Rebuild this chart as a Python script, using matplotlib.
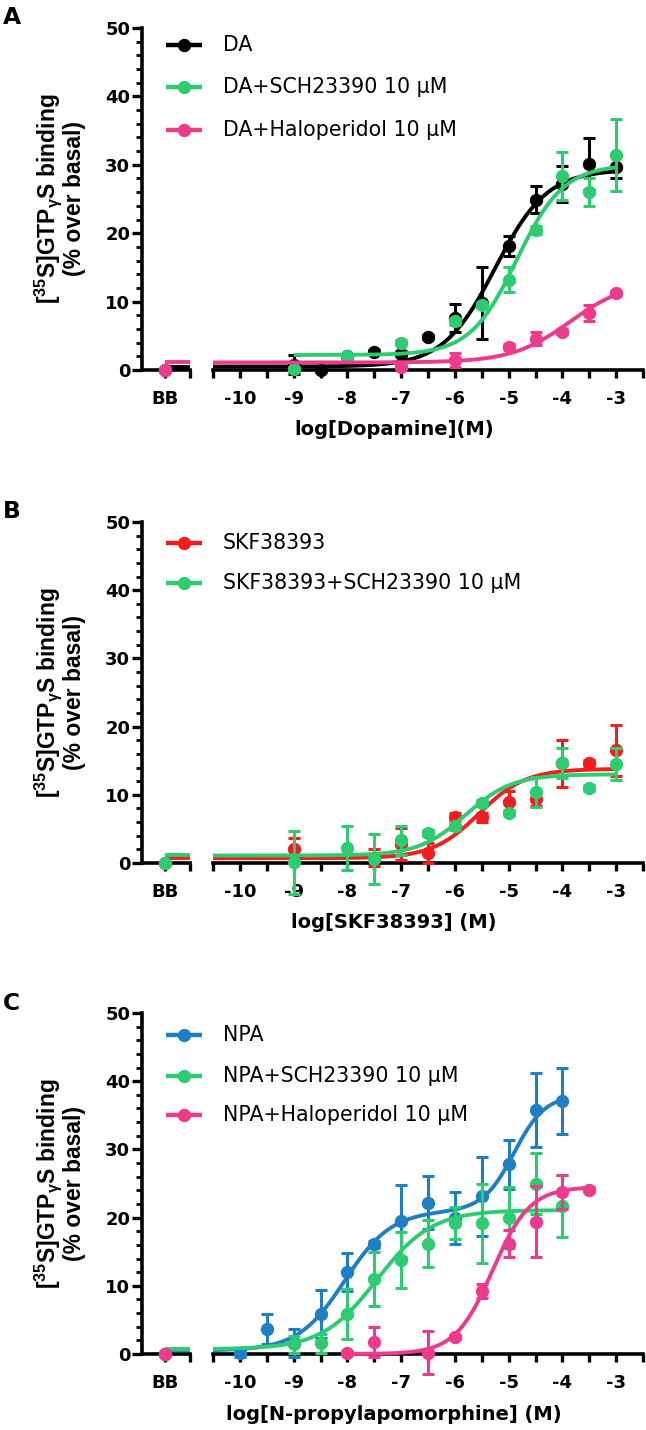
import matplotlib
matplotlib.use('Agg')
import matplotlib.pyplot as plt
import numpy as np
from matplotlib.lines import Line2D

plt.rcParams['font.family'] = ['DejaVu Sans']
plt.rcParams['mathtext.fontset'] = 'custom'
plt.rcParams['mathtext.rm'] = 'Liberation Sans:bold'
plt.rcParams['mathtext.it'] = 'Liberation Sans'
plt.rcParams['mathtext.default'] = 'rm'

# colours
BLACK = '#000000'
GREEN = '#2ecc71'
PINK = '#ee3a8c'
RED = '#f21d1d'
BLUE = '#1f7fc4'

# ---------------- panel A : dopamine ----------------
a_da_x = [-9, -8.5, -8, -7.5, -7, -6.5, -6, -5.5, -5, -4.5, -4, -3.5, -3]
a_da_y = [0.8, 0.0, 2.0, 2.6, 2.4, 4.8, 7.6, 9.8, 18.1, 24.9, 27.2, 30.1, 29.7]
a_da_e = [1.4, 0.3, 0.3, 0.3, 0.4, 0.3, 2.1, 5.3, 1.5, 2.0, 2.6, 3.8, 1.7]
a_sch_x = [-9, -8, -7, -6, -5.5, -5, -4.5, -4, -3.5, -3]
a_sch_y = [0.2, 2.0, 4.0, 7.1, 9.5, 13.2, 20.5, 28.3, 26.0, 31.4]
a_sch_e = [0.3, 0.3, 0.4, 0.5, 0.5, 1.8, 0.6, 3.5, 2.0, 5.3]
a_hal_x = [-7, -6, -5, -4.5, -4, -3.5, -3]
a_hal_y = [0.5, 1.5, 3.4, 4.6, 5.6, 8.3, 11.2]
a_hal_e = [0.3, 1.0, 0.4, 1.0, 0.4, 1.2, 0.4]
a_bb = [0.0, 0.0, 0.0]
# fitted curves: bottom, top, logEC50, hill
a_da_fit = [0.5, 29.3, -5.25, 0.9]
a_sch_fit = [2.2, 30.0, -4.85, 1.0]
a_hal_fit = [1.1, 13.1, -3.85, 0.8]

# ---------------- panel B : SKF38393 ----------------
b_skf_x = [-9, -7.5, -7, -6.5, -6, -5.5, -5, -4.5, -4, -3.5, -3]
b_skf_y = [2.0, 0.8, 2.8, 1.5, 6.8, 6.7, 8.9, 9.4, 14.6, 14.6, 16.5]
b_skf_e = [1.6, 1.2, 2.4, 1.5, 0.5, 0.7, 1.7, 1.0, 3.5, 0.5, 3.7]
b_sch_x = [-9, -8, -7.5, -7, -6.5, -6, -5.5, -5, -4.5, -4, -3.5, -3]
b_sch_y = [0.1, 2.2, 0.6, 3.3, 4.4, 5.4, 8.8, 7.4, 10.4, 14.6, 11.0, 14.5]
b_sch_e = [4.6, 3.2, 3.7, 2.1, 0.5, 0.5, 0.5, 0.4, 2.2, 2.2, 0.4, 2.3]
b_bb = [0.0, 0.0]
b_skf_fit = [0.7, 13.8, -5.55, 1.0]
b_sch_fit = [1.1, 13.0, -5.8, 1.0]

# ---------------- panel C : NPA ----------------
c_npa_x = [-10, -9.5, -9, -8.5, -8, -7.5, -7, -6.5, -6, -5.5, -5, -4.5, -4]
c_npa_y = [0.1, 3.6, 1.6, 5.9, 12.0, 16.1, 19.5, 22.2, 19.9, 23.1, 27.8, 35.8, 37.1]
c_npa_e = [0.6, 2.2, 2.0, 3.5, 2.8, 0.5, 5.3, 3.9, 3.8, 5.8, 3.6, 5.4, 4.9]
c_sch_x = [-9, -8.5, -8, -7.5, -7, -6.5, -6, -5.5, -5, -4.5, -4]
c_sch_y = [1.4, 1.6, 5.9, 11.0, 13.8, 16.2, 19.2, 19.2, 20.0, 25.0, 21.7]
c_sch_e = [1.2, 1.4, 3.7, 4.0, 4.1, 3.4, 2.4, 5.8, 4.5, 4.5, 4.6]
c_hal_x = [-8, -7.5, -6.5, -6, -5.5, -5, -4.5, -4, -3.5]
c_hal_y = [0.2, 1.8, 0.2, 2.5, 9.2, 16.2, 19.4, 23.8, 24.1]
c_hal_e = [0.2, 2.2, 3.1, 0.3, 1.0, 2.0, 5.2, 2.5, 0.4]
c_bb = [0.0, 0.0, 0.0]
# biphasic: bottom, span1, logEC50_1, hill1, span2, logEC50_2, hill2
c_npa_fit = [0.5, 20.5, -8.05, 1.0, 17.0, -4.9, 1.5]
c_sch_fit = [0.7, 21.1, -7.45, 0.85]
c_hal_fit = [0.0, 24.5, -5.3, 1.25]

log_ticks = [-10, -9, -8, -7, -6, -5, -4, -3]
y_ticks = [0, 10, 20, 30, 40, 50]

W, H = 646, 1430
TICK_FS = 13
LEG_FS = 14.8


def fx(px):
    return px / W


def fy(py):
    return 1 - py / H


def sigmoid(x, p):
    b, t, ec, h = p
    return b + (t - b) / (1 + 10 ** ((ec - x) * h))


def biphasic(x, p):
    b, s1, ec1, h1, s2, ec2, h2 = p
    return b + s1 / (1 + 10 ** ((ec1 - x) * h1)) + s2 / (1 + 10 ** ((ec2 - x) * h2))


def draw_panel(fig, top, bottom, letter, xlabel, series, leg_rows):
    yb = fy(bottom)
    hh = (bottom - top) / H
    ax_bb = fig.add_axes([fx(142), yb, fx(190) - fx(142), hh])
    ax_log = fig.add_axes([fx(213), yb, fx(643) - fx(213), hh])
    for ax in (ax_bb, ax_log):
        ax.set_ylim(0, 50)
        ax.spines['top'].set_visible(False)
        ax.spines['right'].set_visible(False)
        for s in ('left', 'bottom'):
            ax.spines[s].set_linewidth(2.6)
        ax.patch.set_alpha(0)
        ax.tick_params(axis='x', which='both', direction='out', length=5.5,
                       width=2.4, pad=9)
    ax_bb.set_xlim(-0.92, 1)
    ax_bb.set_xticks([0, 1])
    ax_bb.set_xticklabels(['BB', ''], fontweight='bold', fontsize=TICK_FS)
    ax_bb.set_yticks(y_ticks)
    ax_bb.set_yticklabels([str(v) for v in y_ticks], fontweight='bold', fontsize=TICK_FS)
    ax_bb.set_yticks(np.arange(0, 51, 2), minor=True)
    ax_bb.tick_params(axis='y', which='major', direction='out', length=7, width=2.4, pad=1.5)
    ax_bb.tick_params(axis='y', which='minor', direction='out', length=4, width=2.0)
    ax_log.spines['left'].set_visible(False)
    ax_log.set_yticks([])
    ax_log.set_xlim(-10.5, -2.5)
    ax_log.set_xticks(log_ticks)
    ax_log.set_xticklabels([str(v) for v in log_ticks], fontweight='bold', fontsize=TICK_FS)
    ax_log.set_xticks(np.arange(-10.5, -2.4, 0.5), minor=True)

    for i, s in enumerate(series):
        z = 3 + i
        c = s['color']
        f = s['func']
        if s['bb_line']:
            ax_bb.plot([0, 1], [f(-10.5, s['fit'])] * 2, color=c, lw=2.8, zorder=z,
                       clip_on=False, solid_capstyle='butt')
        xs = np.linspace(s['x0'], s['x1'], 300)
        ax_log.plot(xs, f(xs, s['fit']), color=c, lw=2.8, zorder=z, clip_on=False,
                    solid_capstyle='butt')
        ax_log.errorbar(s['x'], s['y'], yerr=s['e'], fmt='o', color=c, ms=8.6,
                        elinewidth=2.2, capsize=4.5, capthick=2.2, zorder=z + 0.5,
                        clip_on=False)
        ax_bb.plot([0], [s['bb']], 'o', color=c, ms=8.6, zorder=z + 0.5, clip_on=False)

        # legend entry drawn by hand
        ly = fy(leg_rows[i])
        fig.add_artist(Line2D([fx(166), fx(202)], [ly, ly], color=c, lw=3.2,
                              transform=fig.transFigure, solid_capstyle='butt'))
        fig.add_artist(Line2D([fx(184)], [ly], color=c, marker='o', ms=8.6,
                              transform=fig.transFigure))
        fig.text(fx(223), ly, s['label'], fontsize=LEG_FS, ha='left', va='center')

    fig.text(fx(3), fy(top - 10), letter, fontsize=16.8, fontweight='bold',
             ha='left', va='center')
    fig.text(fx(394), fy(bottom + 60), xlabel, fontsize=14, fontweight='bold',
             ha='center', va='center')
    ymid = fy((top + bottom) / 2)
    fig.text(fx(48), ymid, '[$^{35}$S]GTP$_{γ}$S binding', family='Liberation Sans',
             fontsize=16.5, fontweight='bold', rotation=90, ha='center', va='center')
    fig.text(fx(74), ymid, '(% over basal)', family='Liberation Sans',
             fontsize=16.5, fontweight='bold', rotation=90, ha='center', va='center')


fig = plt.figure(figsize=(W / 100, H / 100), dpi=100)

draw_panel(fig, 28, 370, 'A', 'log[Dopamine](M)', [
    dict(x=a_da_x, y=a_da_y, e=a_da_e, bb=a_bb[0], fit=a_da_fit, func=sigmoid,
         color=BLACK, label='DA', x0=-10.5, x1=-3, bb_line=True),
    dict(x=a_sch_x, y=a_sch_y, e=a_sch_e, bb=a_bb[1], fit=a_sch_fit, func=sigmoid,
         color=GREEN, label='DA+SCH23390 10 μM', x0=-9, x1=-3, bb_line=False),
    dict(x=a_hal_x, y=a_hal_y, e=a_hal_e, bb=a_bb[2], fit=a_hal_fit, func=sigmoid,
         color=PINK, label='DA+Haloperidol 10 μM', x0=-10.5, x1=-3, bb_line=True),
], leg_rows=[45, 87, 130])

draw_panel(fig, 522, 863, 'B', 'log[SKF38393] (M)', [
    dict(x=b_skf_x, y=b_skf_y, e=b_skf_e, bb=b_bb[0], fit=b_skf_fit, func=sigmoid,
         color=RED, label='SKF38393', x0=-10.5, x1=-3, bb_line=True),
    dict(x=b_sch_x, y=b_sch_y, e=b_sch_e, bb=b_bb[1], fit=b_sch_fit, func=sigmoid,
         color=GREEN, label='SKF38393+SCH23390 10 μM', x0=-10.5, x1=-3, bb_line=True),
], leg_rows=[543, 583])

draw_panel(fig, 1013, 1354, 'C', 'log[N-propylapomorphine] (M)', [
    dict(x=c_npa_x, y=c_npa_y, e=c_npa_e, bb=c_bb[0], fit=c_npa_fit, func=biphasic,
         color=BLUE, label='NPA', x0=-10.5, x1=-4, bb_line=True),
    dict(x=c_sch_x, y=c_sch_y, e=c_sch_e, bb=c_bb[1], fit=c_sch_fit, func=sigmoid,
         color=GREEN, label='NPA+SCH23390 10 μM', x0=-10.5, x1=-4, bb_line=True),
    dict(x=c_hal_x, y=c_hal_y, e=c_hal_e, bb=c_bb[2], fit=c_hal_fit, func=sigmoid,
         color=PINK, label='NPA+Haloperidol 10 μM', x0=-8, x1=-3.5, bb_line=False),
], leg_rows=[1035, 1076, 1115])

fig.savefig('out.png', dpi=100)
